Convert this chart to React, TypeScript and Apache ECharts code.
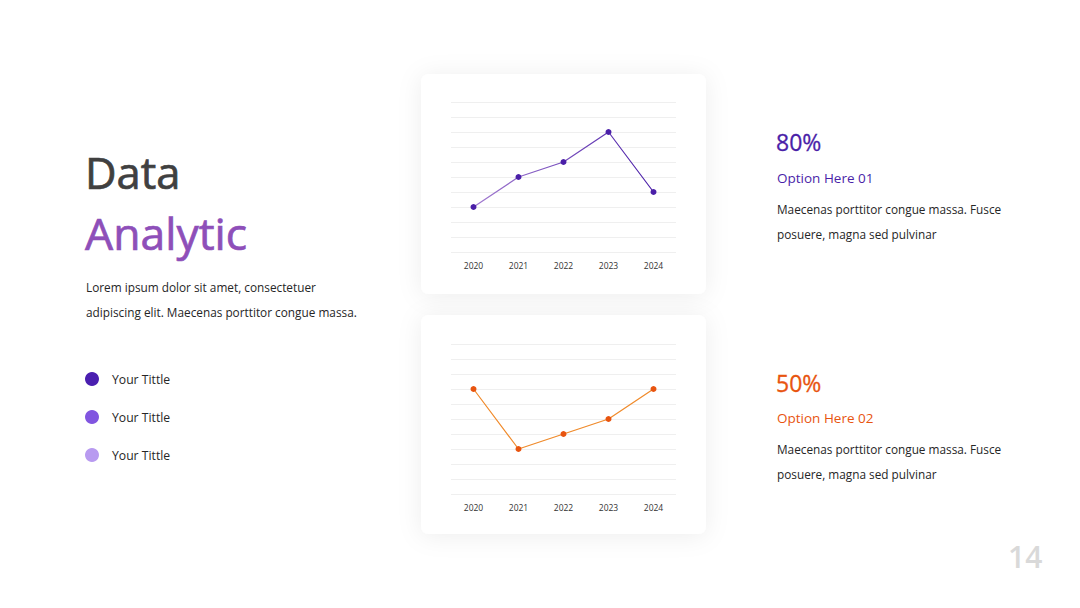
import React, { useEffect, useRef } from "react";
import * as echarts from "echarts";

const years = ["2020", "2021", "2022", "2023", "2024"];
const series1 = [3, 5, 6, 8, 4];
const series2 = [7, 3, 4, 5, 7];
const legendItems = ["Your Tittle", "Your Tittle", "Your Tittle"];
const legendColors = ["#4a1fb0", "#8155e0", "#b89af0"];
const stat1 = { value: "80%", title: "Option Here 01" };
const stat2 = { value: "50%", title: "Option Here 02" };
const bodyLines = ["Maecenas porttitor congue massa. Fusce", "posuere, magna sed pulvinar"];
const introLines = ["Lorem ipsum dolor sit amet, consectetuer", "adipiscing elit. Maecenas porttitor congue massa."];

const FONT = "'Open Sans', 'Noto Sans', sans-serif";

export default function App() {
  const ref = useRef<HTMLDivElement>(null);
  useEffect(() => {
    if (!ref.current) return;
    const chart = echarts.init(ref.current, null, { renderer: "svg" });

    const txt = (text: string, x: number, y: number, size: number, fill: string, weight = "normal", sw = 0) => ({
      type: "text",
      x,
      y,
      style: {
        text,
        fill,
        font: `${weight} ${size}px ${FONT}`,
        align: "left",
        verticalAlign: "middle",
        ...(sw > 0 ? { stroke: fill, lineWidth: sw } : {}),
      },
    });

    const card = (y: number, h: number) => ({
      type: "rect",
      z: -10,
      shape: { x: 421, y, width: 285, height: h, r: 8 },
      style: { fill: "#ffffff", shadowBlur: 24, shadowColor: "rgba(0,0,0,0.07)", shadowOffsetY: 2 },
    });

    const graphics: any[] = [
      card(74, 220),
      card(315, 219),
      txt("Data", 85, 172, 43.5, "#404040", "normal", 0.7),
      txt("Analytic", 85, 232, 44.5, "#8e4fb9", "normal", 0.7),
      txt(introLines[0], 86, 287, 11.8, "#262626"),
      txt(introLines[1], 86, 312, 11.8, "#262626"),
      ...legendItems.flatMap((t, i) => [
        { type: "circle", shape: { cx: 92, cy: 379 + i * 38, r: 7 }, style: { fill: legendColors[i] } },
        txt(t, 112, 379 + i * 38, 12.2, "#262626"),
      ]),
      txt(stat1.value, 776, 142, 23, "#4a1fa8", "normal", 0.3),
      txt(stat1.title, 777, 178, 13.5, "#4a1fa8"),
      txt(bodyLines[0], 777, 209, 11.8, "#262626"),
      txt(bodyLines[1], 777, 234, 11.8, "#262626"),
      txt(stat2.value, 776, 383, 23, "#e8540f", "normal", 0.3),
      txt(stat2.title, 777, 418, 13.5, "#e8540f"),
      txt(bodyLines[0], 777, 449, 11.8, "#262626"),
      txt(bodyLines[1], 777, 474, 11.8, "#262626"),
      txt("14", 1008, 556, 30, "#d9d9d9", "600"),
    ];

    const xAx = (gi: number) => ({
      type: "category",
      gridIndex: gi,
      data: years,
      boundaryGap: true,
      axisLine: { show: false },
      axisTick: { show: false },
      axisLabel: { color: "#333333", fontSize: 8.5, fontFamily: FONT, margin: 9 },
    });
    const yAx = (gi: number) => ({
      type: "value",
      gridIndex: gi,
      min: 0,
      max: 10,
      interval: 1,
      axisLabel: { show: false },
      axisLine: { show: false },
      axisTick: { show: false },
      splitLine: { lineStyle: { color: "#efefef", width: 1 } },
    });

    chart.setOption({
      animation: false,
      backgroundColor: "#ffffff",
      grid: [
        { left: 451, top: 102, width: 225, height: 150 },
        { left: 451, top: 344, width: 225, height: 150 },
      ],
      xAxis: [xAx(0), xAx(1)],
      yAxis: [yAx(0), yAx(1)],
      graphic: graphics,
      series: [
        {
          type: "line",
          xAxisIndex: 0,
          yAxisIndex: 0,
          data: series1,
          symbol: "circle",
          symbolSize: 6,
          lineStyle: {
            width: 1.2,
            color: new echarts.graphic.LinearGradient(0, 0, 1, 0, [
              { offset: 0, color: "#a27ad0" },
              { offset: 1, color: "#4a1fa8" },
            ]),
          },
          itemStyle: { color: "#4a1fa8" },
        },
        {
          type: "line",
          xAxisIndex: 1,
          yAxisIndex: 1,
          data: series2,
          symbol: "circle",
          symbolSize: 6,
          lineStyle: { width: 1.2, color: "#f08a2a" },
          itemStyle: { color: "#e8540f" },
        },
      ],
    });
    return () => chart.dispose();
  }, []);

  return <div ref={ref} style={{ position: "fixed", left: 0, top: 0, width: 1080, height: 608 }} />;
}
